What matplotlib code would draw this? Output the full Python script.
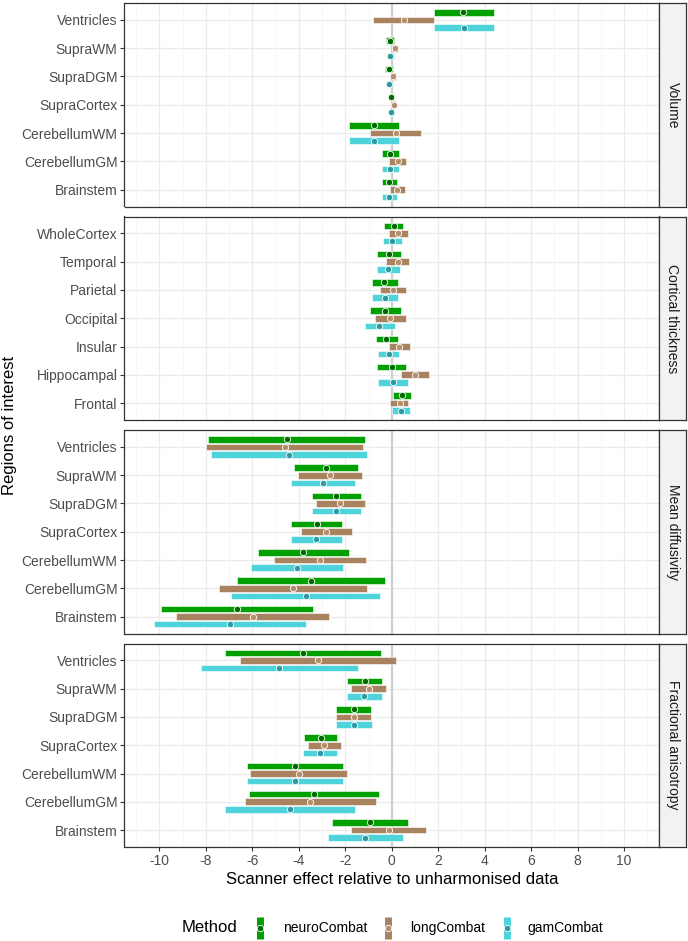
import numpy as np
import matplotlib
matplotlib.use("Agg")
import matplotlib.pyplot as plt
from matplotlib.lines import Line2D

plt.rcParams['font.family'] = ['Liberation Sans', 'DejaVu Sans']

# region labels, top to bottom
regions_main = ["Ventricles", "SupraWM", "SupraDGM", "SupraCortex",
                "CerebellumWM", "CerebellumGM", "Brainstem"]
regions_ct = ["WholeCortex", "Temporal", "Parietal", "Occipital",
              "Insular", "Hippocampal", "Frontal"]

methods = ["neuroCombat", "longCombat", "gamCombat"]

# (low, estimate, high) per region, top to bottom
vol_neuro = [(1.80, 3.08, 4.42), (-0.23, -0.06, 0.11), (-0.28, -0.11, 0.06), (-0.11, -0.02, 0.08),
             (-1.85, -0.78, 0.30), (-0.43, -0.08, 0.30), (-0.43, -0.13, 0.21)]
vol_long = [(-0.79, 0.51, 1.83), (0.00, 0.13, 0.28), (-0.09, 0.06, 0.19), (0.00, 0.09, 0.20),
            (-0.93, 0.17, 1.25), (-0.11, 0.25, 0.60), (-0.08, 0.23, 0.55)]
vol_gam = [(1.80, 3.10, 4.42), (-0.21, -0.06, 0.11), (-0.25, -0.11, 0.04), (-0.13, -0.04, 0.08),
           (-1.85, -0.78, 0.30), (-0.43, -0.08, 0.30), (-0.43, -0.13, 0.21)]

ct_neuro = [(-0.32, 0.09, 0.47), (-0.62, -0.13, 0.38), (-0.87, -0.34, 0.25), (-0.93, -0.28, 0.38),
            (-0.68, -0.23, 0.25), (-0.62, 0.00, 0.62), (0.06, 0.43, 0.83)]
ct_long = [(-0.11, 0.28, 0.68), (-0.23, 0.26, 0.76), (-0.49, 0.06, 0.60), (-0.72, -0.08, 0.60),
           (-0.11, 0.32, 0.78), (0.38, 0.98, 1.61), (-0.06, 0.34, 0.72)]
ct_gam = [(-0.38, 0.02, 0.42), (-0.64, -0.15, 0.36), (-0.83, -0.30, 0.25), (-1.17, -0.53, 0.13),
          (-0.59, -0.13, 0.32), (-0.59, 0.06, 0.68), (0.02, 0.40, 0.78)]

md_neuro = [(-7.90, -4.52, -1.15), (-4.22, -2.85, -1.47), (-3.44, -2.38, -1.32), (-4.33, -3.21, -2.14),
            (-5.75, -3.80, -1.83), (-6.67, -3.48, -0.28), (-9.92, -6.64, -3.38)]
md_long = [(-7.98, -4.61, -1.25), (-4.03, -2.67, -1.29), (-3.27, -2.23, -1.17), (-3.91, -2.82, -1.72),
           (-5.05, -3.08, -1.12), (-7.45, -4.25, -1.06), (-9.28, -5.99, -2.72)]
md_gam = [(-7.79, -4.44, -1.08), (-4.33, -2.95, -1.59), (-3.44, -2.38, -1.32), (-4.33, -3.25, -2.14),
          (-6.05, -4.06, -2.10), (-6.90, -3.69, -0.49), (-10.23, -6.96, -3.69)]

fa_neuro = [(-7.16, -3.82, -0.47), (-1.91, -1.17, -0.40), (-2.40, -1.64, -0.89), (-3.78, -3.06, -2.34),
            (-6.24, -4.18, -2.08), (-6.16, -3.35, -0.53), (-2.55, -0.93, 0.68)]
fa_long = [(-6.54, -3.19, 0.17), (-1.74, -0.98, -0.23), (-2.40, -1.64, -0.89), (-3.61, -2.91, -2.19),
           (-6.09, -4.01, -1.91), (-6.31, -3.50, -0.68), (-1.74, -0.13, 1.49)]
fa_gam = [(-8.20, -4.84, -1.47), (-1.93, -1.19, -0.42), (-2.40, -1.62, -0.87), (-3.80, -3.08, -2.36),
          (-6.24, -4.18, -2.08), (-7.18, -4.39, -1.57), (-2.76, -1.15, 0.47)]

panels = [
    ("Volume", regions_main, [vol_neuro, vol_long, vol_gam]),
    ("Cortical thickness", regions_ct, [ct_neuro, ct_long, ct_gam]),
    ("Mean diffusivity", regions_main, [md_neuro, md_long, md_gam]),
    ("Fractional anisotropy", regions_main, [fa_neuro, fa_long, fa_gam]),
]

bar_colors = ["#00A000", "#A9825F", "#4FD3DB"]
pt_colors = ["#006A00", "#B58E6C", "#2E999F"]
offsets = [0.27, 0.0, -0.27]
bar_h = 0.235

W, H = 688, 941
fig = plt.figure(figsize=(W / 100, H / 100), dpi=100)

left, right = 124.5 / W, 659 / W
strip_w = 27 / W
top_px, bottom_px, gap_px = 3, 847, 10
ph = (bottom_px - top_px - 3 * gap_px) / 4

for k, (title, regs, data) in enumerate(panels):
    y_top = top_px + k * (ph + gap_px)
    ax = fig.add_axes([left, 1 - (y_top + ph) / H, right - left, ph / H])
    n = len(regs)
    ypos = np.arange(n)[::-1]

    ax.set_xlim(-11.5, 11.5)
    ax.set_ylim(-0.6, n - 0.4)
    ax.set_xticks(np.arange(-10, 11, 2))
    ax.set_xticks(np.arange(-11, 12, 2), minor=True)
    ax.set_yticks(ypos)
    ax.set_yticklabels(regs)
    ax.grid(True, which='major', color='#EBEBEB', linewidth=0.9)
    ax.grid(True, which='minor', axis='x', color='#F4F4F4', linewidth=0.5)
    ax.set_axisbelow(True)
    ax.axvline(0, color='#CFCFCF', linewidth=1.6, zorder=1)

    for m, series in enumerate(data):
        arr = np.array(series)
        lo, est, hi = arr[:, 0], arr[:, 1], arr[:, 2]
        yy = ypos + offsets[m]
        ax.barh(yy, hi - lo, left=lo, height=bar_h, color=bar_colors[m],
                edgecolor='white', linewidth=0.4, zorder=2)
        ax.plot(est, yy, 'o', color=pt_colors[m], markeredgecolor='white',
                markeredgewidth=0.6, markersize=4.6, zorder=3)

    for s in ax.spines.values():
        s.set_color('#333333')
        s.set_linewidth(0.9)
    ax.tick_params(axis='y', length=3, color='#333333', labelsize=10,
                   labelcolor='#4D4D4D', pad=2)
    ax.tick_params(axis='x', which='minor', length=0)
    if k < 3:
        ax.tick_params(axis='x', length=0, labelbottom=False)
    else:
        ax.tick_params(axis='x', length=3, color='#333333', labelsize=10,
                       labelcolor='#4D4D4D', pad=2)
        ax.set_xticklabels([str(v) for v in range(-10, 11, 2)])
        ax.set_xlabel("Scanner effect relative to unharmonised data",
                      fontsize=12, labelpad=3)

    # facet strip
    sax = fig.add_axes([right, 1 - (y_top + ph) / H, strip_w, ph / H])
    sax.set_facecolor('#F2F2F2')
    sax.set_xticks([])
    sax.set_yticks([])
    for s in sax.spines.values():
        s.set_color('#333333')
        s.set_linewidth(0.9)
    sax.text(0.5, 0.5, title, rotation=-90, ha='center', va='center',
             fontsize=10, color='#1A1A1A', transform=sax.transAxes)

fig.text(10 / W, 1 - 425 / H, "Regions of interest", rotation=90,
         ha='center', va='center', fontsize=12)

# legend
ly = 1 - 928 / H
fig.text(182 / W, ly, "Method", ha='left', va='center', fontsize=12)
key_x = [260, 388, 507]
lab_x = [283, 410, 527]
for m, name in enumerate(methods):
    kx = key_x[m] / W
    fig.add_artist(Line2D([kx, kx], [ly - 11 / H, ly + 11 / H], color=bar_colors[m],
                          linewidth=5, solid_capstyle='butt', transform=fig.transFigure))
    fig.add_artist(Line2D([kx], [ly], marker='o', color=pt_colors[m],
                          markeredgecolor='white', markeredgewidth=0.6, markersize=4.6,
                          transform=fig.transFigure))
    fig.text(lab_x[m] / W, ly, name, ha='left', va='center', fontsize=10)

fig.savefig("out.png", dpi=100)
